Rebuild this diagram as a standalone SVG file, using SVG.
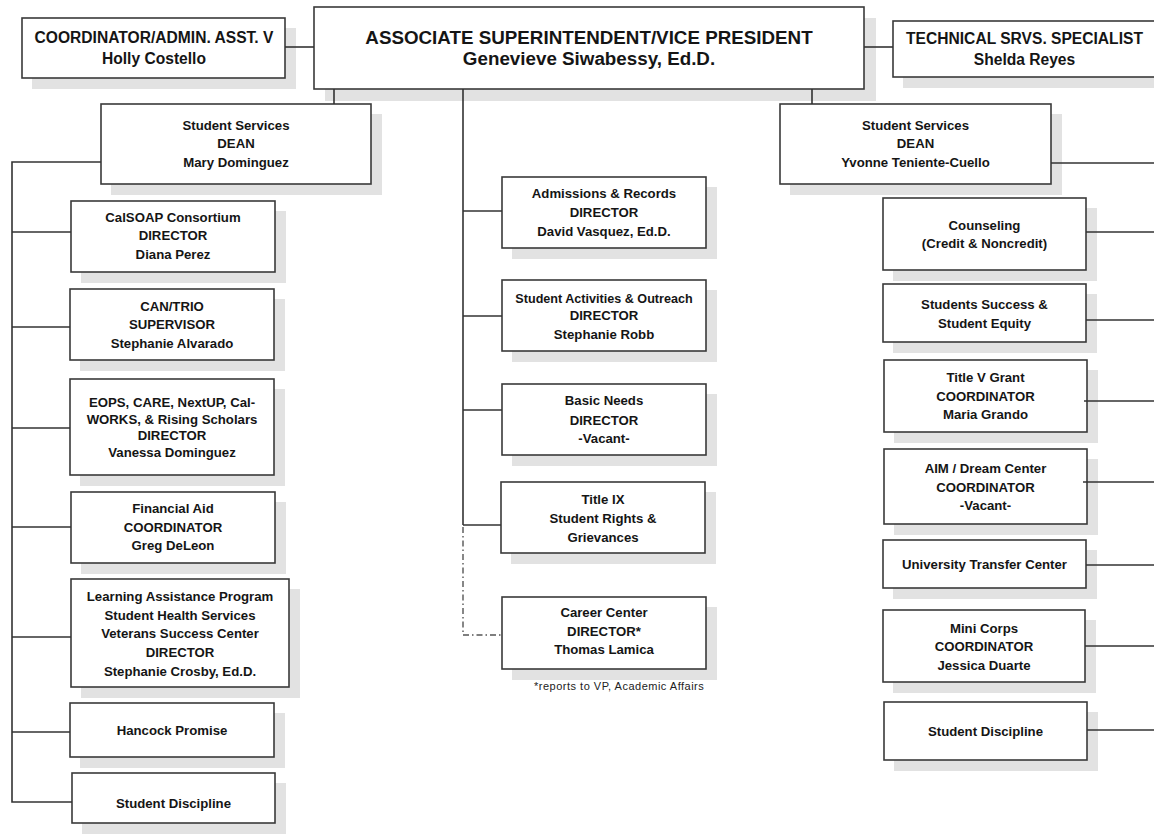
<svg xmlns="http://www.w3.org/2000/svg" width="1154" height="834" viewBox="0 0 1154 834">
  <style>
    .sh { fill: #e2e2e2; }
    .box { fill: #ffffff; stroke: #3a3a3a; stroke-width: 1.6; }
    .t { font-family: "Liberation Sans", Arial, sans-serif; font-weight: bold; font-size: 13.2px; text-anchor: middle; fill: #151515; }
    .t15 { font-size: 15.6px; }
    .t19 { font-size: 18.8px; }
    .ln { fill: none; stroke: #333333; stroke-width: 1.6; }
    .dd { fill: none; stroke: #555555; stroke-width: 1.4; stroke-dasharray: 6 3 1.5 3; }
    .note { font-family: "Liberation Sans", Arial, sans-serif; font-size: 11px; letter-spacing: 0.5px; fill: #222222; }
  </style>

  <rect width="1154" height="834" fill="#ffffff"/>

  <!-- top row -->
  <g id="coordinator">
    <rect class="sh" x="32" y="28" width="264" height="61"/>
    <rect class="box" x="22" y="18" width="263" height="60"/>
    <text class="t t15"><tspan x="154" y="42.5">COORDINATOR/ADMIN. ASST. V</tspan><tspan x="154" y="63.5">Holly Costello</tspan></text>
  </g>
  <g id="vice-president">
    <rect class="sh" x="325" y="18" width="551" height="83"/>
    <rect class="box" x="314" y="7" width="550" height="82"/>
    <text class="t t19"><tspan x="589" y="43.5">ASSOCIATE SUPERINTENDENT/VICE PRESIDENT</tspan><tspan x="589" y="64.5">Genevieve Siwabessy, Ed.D.</tspan></text>
  </g>
  <g id="technical-specialist">
    <rect class="sh" x="903" y="31" width="264" height="57"/>
    <rect class="box" x="893" y="21" width="263" height="56"/>
    <text class="t t15"><tspan x="1024.5" y="43.5">TECHNICAL SRVS. SPECIALIST</tspan><tspan x="1024.5" y="65">Shelda Reyes</tspan></text>
  </g>

  <!-- deans -->
  <g id="dean-left">
    <rect class="sh" x="111" y="114" width="271" height="81"/>
    <rect class="box" x="101" y="104" width="270" height="80"/>
    <text class="t"><tspan x="236" y="129.5">Student Services</tspan><tspan x="236" y="147.5">DEAN</tspan><tspan x="236" y="166.5">Mary Dominguez</tspan></text>
  </g>
  <g id="dean-right">
    <rect class="sh" x="790" y="114" width="272" height="81"/>
    <rect class="box" x="780" y="104" width="271" height="80"/>
    <text class="t"><tspan x="915.5" y="129.5">Student Services</tspan><tspan x="915.5" y="147.5">DEAN</tspan><tspan x="915.5" y="166.5">Yvonne Teniente-Cuello</tspan></text>
  </g>

  <!-- left column -->
  <g id="calsoap">
    <rect class="sh" x="81" y="211" width="205" height="72"/>
    <rect class="box" x="71" y="201" width="204" height="71"/>
    <text class="t"><tspan x="173" y="221.5">CalSOAP Consortium</tspan><tspan x="173" y="240">DIRECTOR</tspan><tspan x="173" y="258.5">Diana Perez</tspan></text>
  </g>
  <g id="can-trio">
    <rect class="sh" x="80" y="299" width="205" height="72"/>
    <rect class="box" x="70" y="289" width="204" height="71"/>
    <text class="t"><tspan x="172" y="310.5">CAN/TRIO</tspan><tspan x="172" y="329">SUPERVISOR</tspan><tspan x="172" y="347.5">Stephanie Alvarado</tspan></text>
  </g>
  <g id="eops">
    <rect class="sh" x="80" y="389" width="205" height="97"/>
    <rect class="box" x="70" y="379" width="204" height="96"/>
    <text class="t"><tspan x="172" y="406.5">EOPS, CARE, NextUP, Cal-</tspan><tspan x="172" y="423.5">WORKS, &amp; Rising Scholars</tspan><tspan x="172" y="439.5">DIRECTOR</tspan><tspan x="172" y="456.5">Vanessa Dominguez</tspan></text>
  </g>
  <g id="financial-aid">
    <rect class="sh" x="81" y="502" width="205" height="72"/>
    <rect class="box" x="71" y="492" width="204" height="71"/>
    <text class="t"><tspan x="173" y="512.5">Financial Aid</tspan><tspan x="173" y="531.5">COORDINATOR</tspan><tspan x="173" y="549.5">Greg DeLeon</tspan></text>
  </g>
  <g id="learning-assistance">
    <rect class="sh" x="81" y="589" width="219" height="109"/>
    <rect class="box" x="71" y="579" width="218" height="108"/>
    <text class="t"><tspan x="180" y="600.5">Learning Assistance Program</tspan><tspan x="180" y="619.5">Student Health Services</tspan><tspan x="180" y="637.5">Veterans Success Center</tspan><tspan x="180" y="656.5">DIRECTOR</tspan><tspan x="180" y="675.5">Stephanie Crosby, Ed.D.</tspan></text>
  </g>
  <g id="hancock-promise">
    <rect class="sh" x="80" y="713" width="205" height="55"/>
    <rect class="box" x="70" y="703" width="204" height="54"/>
    <text class="t"><tspan x="172" y="734.5">Hancock Promise</tspan></text>
  </g>
  <g id="student-discipline-left">
    <rect class="sh" x="82" y="783" width="204" height="51"/>
    <rect class="box" x="72" y="773" width="203" height="50"/>
    <text class="t"><tspan x="173.5" y="807.5">Student Discipline</tspan></text>
  </g>

  <!-- center column -->
  <g id="admissions">
    <rect class="sh" x="512" y="187" width="205" height="72"/>
    <rect class="box" x="502" y="177" width="204" height="71"/>
    <text class="t"><tspan x="604" y="197.5">Admissions &amp; Records</tspan><tspan x="604" y="216.5">DIRECTOR</tspan><tspan x="604" y="235.5">David Vasquez, Ed.D.</tspan></text>
  </g>
  <g id="student-activities">
    <rect class="sh" x="512" y="290" width="205" height="72"/>
    <rect class="box" x="502" y="280" width="204" height="71"/>
    <text class="t"><tspan x="604" y="302.5" style="font-size:12.6px">Student Activities &amp; Outreach</tspan><tspan x="604" y="319.5">DIRECTOR</tspan><tspan x="604" y="338.5">Stephanie Robb</tspan></text>
  </g>
  <g id="basic-needs">
    <rect class="sh" x="512" y="394" width="205" height="72"/>
    <rect class="box" x="502" y="384" width="204" height="71"/>
    <text class="t"><tspan x="604" y="404.5">Basic Needs</tspan><tspan x="604" y="424.5">DIRECTOR</tspan><tspan x="604" y="442.5">-Vacant-</tspan></text>
  </g>
  <g id="title-ix">
    <rect class="sh" x="511" y="492" width="205" height="72"/>
    <rect class="box" x="501" y="482" width="204" height="71"/>
    <text class="t"><tspan x="603" y="504">Title IX</tspan><tspan x="603" y="522.5">Student Rights &amp;</tspan><tspan x="603" y="541.5">Grievances</tspan></text>
  </g>
  <g id="career-center">
    <rect class="sh" x="512" y="607" width="205" height="73"/>
    <rect class="box" x="502" y="597" width="204" height="72"/>
    <text class="t"><tspan x="604" y="616.5">Career Center</tspan><tspan x="604" y="635.5">DIRECTOR*</tspan><tspan x="604" y="653.5">Thomas Lamica</tspan></text>
    <text class="note" x="534" y="690">*reports to VP, Academic Affairs</text>
  </g>

  <!-- right column -->
  <g id="counseling">
    <rect class="sh" x="893" y="208" width="204" height="73"/>
    <rect class="box" x="883" y="198" width="203" height="72"/>
    <text class="t"><tspan x="984.5" y="229.5">Counseling</tspan><tspan x="984.5" y="248">(Credit &amp; Noncredit)</tspan></text>
  </g>
  <g id="student-success">
    <rect class="sh" x="893" y="294" width="204" height="59"/>
    <rect class="box" x="883" y="284" width="203" height="58"/>
    <text class="t"><tspan x="984.5" y="308.5">Students Success &amp;</tspan><tspan x="984.5" y="327.5">Student Equity</tspan></text>
  </g>
  <g id="title-v">
    <rect class="sh" x="894" y="370" width="204" height="73"/>
    <rect class="box" x="884" y="360" width="203" height="72"/>
    <text class="t"><tspan x="985.5" y="381.5">Title V Grant</tspan><tspan x="985.5" y="400.5">COORDINATOR</tspan><tspan x="985.5" y="418.5">Maria Grando</tspan></text>
  </g>
  <g id="aim-dream-center">
    <rect class="sh" x="894" y="459" width="204" height="76"/>
    <rect class="box" x="884" y="449" width="203" height="75"/>
    <text class="t"><tspan x="985.5" y="472.5">AIM / Dream Center</tspan><tspan x="985.5" y="491.5">COORDINATOR</tspan><tspan x="985.5" y="509.5">-Vacant-</tspan></text>
  </g>
  <g id="transfer-center">
    <rect class="sh" x="893" y="550" width="204" height="49"/>
    <rect class="box" x="883" y="540" width="203" height="48"/>
    <text class="t"><tspan x="984.5" y="569">University Transfer Center</tspan></text>
  </g>
  <g id="mini-corps">
    <rect class="sh" x="893" y="620" width="203" height="73"/>
    <rect class="box" x="883" y="610" width="202" height="72"/>
    <text class="t"><tspan x="984" y="632.5">Mini Corps</tspan><tspan x="984" y="650.5">COORDINATOR</tspan><tspan x="984" y="669.5">Jessica Duarte</tspan></text>
  </g>
  <g id="student-discipline-right">
    <rect class="sh" x="894" y="712" width="204" height="59"/>
    <rect class="box" x="884" y="702" width="203" height="58"/>
    <text class="t"><tspan x="985.5" y="735.5">Student Discipline</tspan></text>
  </g>

  <!-- connectors, drawn last so they run over the drop shadows -->
  <g id="connectors">
    <!-- top row -->
    <line class="ln" x1="285" y1="47" x2="314" y2="47"/>
    <line class="ln" x1="864" y1="47" x2="893" y2="47"/>
    <line class="ln" x1="334" y1="89" x2="334" y2="104"/>
    <line class="ln" x1="812" y1="89" x2="812" y2="104"/>
    <!-- left dean trunk -->
    <polyline class="ln" points="101,162 12,162 12,802 72,802"/>
    <line class="ln" x1="12" y1="232" x2="71" y2="232"/>
    <line class="ln" x1="12" y1="327" x2="70" y2="327"/>
    <line class="ln" x1="12" y1="428" x2="70" y2="428"/>
    <line class="ln" x1="12" y1="527" x2="71" y2="527"/>
    <line class="ln" x1="12" y1="637" x2="71" y2="637"/>
    <line class="ln" x1="12" y1="732" x2="70" y2="732"/>
    <!-- center trunk -->
    <line class="ln" x1="463" y1="89" x2="463" y2="525"/>
    <line class="ln" x1="463" y1="211" x2="502" y2="211"/>
    <line class="ln" x1="463" y1="316" x2="502" y2="316"/>
    <line class="ln" x1="463" y1="410" x2="502" y2="410"/>
    <line class="ln" x1="463" y1="525" x2="501" y2="525"/>
    <polyline class="dd" points="463,527 463,635 502,635"/>
    <!-- right dean branches -->
    <line class="ln" x1="1051" y1="163" x2="1154" y2="163"/>
    <line class="ln" x1="1086" y1="232" x2="1154" y2="232"/>
    <line class="ln" x1="1086" y1="320" x2="1154" y2="320"/>
    <line class="ln" x1="1084" y1="401" x2="1154" y2="401"/>
    <line class="ln" x1="1083" y1="482" x2="1154" y2="482"/>
    <line class="ln" x1="1086" y1="565" x2="1154" y2="565"/>
    <line class="ln" x1="1085" y1="646" x2="1154" y2="646"/>
    <line class="ln" x1="1087" y1="730" x2="1154" y2="730"/>
  </g>
</svg>
